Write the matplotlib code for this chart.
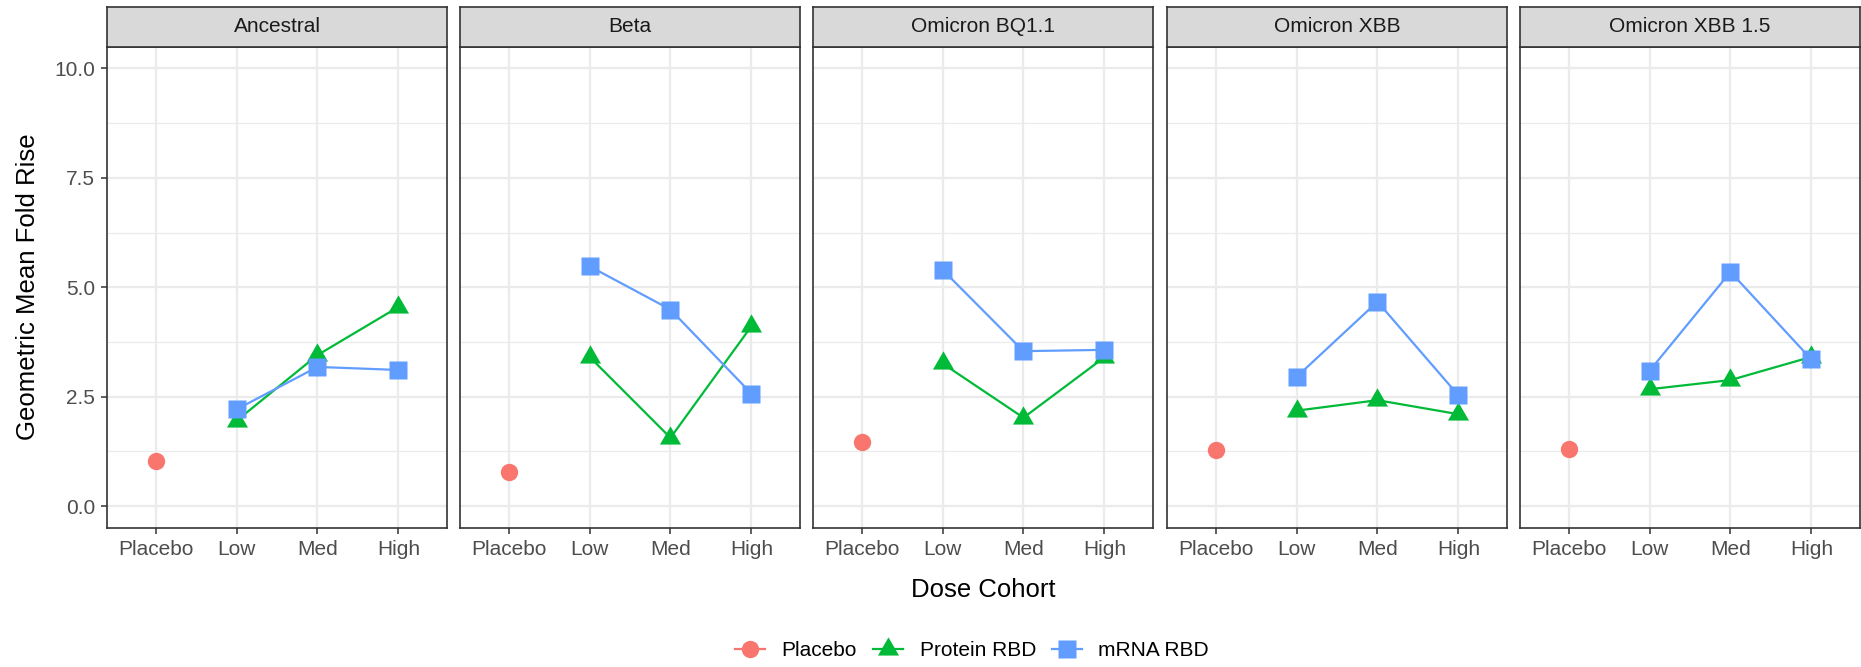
import numpy as np
import matplotlib
matplotlib.use("Agg")
import matplotlib.pyplot as plt
from matplotlib.lines import Line2D

plt.rcParams["font.family"] = ["Liberation Sans", "DejaVu Sans"]

# Data
variants = ["Ancestral", "Beta", "Omicron BQ1.1", "Omicron XBB", "Omicron XBB 1.5"]
cohorts = ["Placebo", "Low", "Med", "High"]
placebo = [1.03, 0.79, 1.47, 1.28, 1.30]
protein_rbd = [
    [1.95, 3.45, 4.55],
    [3.41, 1.56, 4.11],
    [3.26, 2.02, 3.40],
    [2.18, 2.42, 2.10],
    [2.67, 2.88, 3.41],
]
mrna_rbd = [
    [2.21, 3.18, 3.11],
    [5.48, 4.49, 2.57],
    [5.40, 3.54, 3.57],
    [2.95, 4.67, 2.53],
    [3.09, 5.35, 3.35],
]

c_placebo = "#F8766D"
c_protein = "#00BA38"
c_mrna = "#619CFF"

# equilateral triangle like ggplot pch 17
tri = [(-1, -0.577), (1, -0.577), (0, 1.155), (-1, -0.577)]

W, H = 1861, 667
fig = plt.figure(figsize=(W / 100, H / 100), dpi=100)

lefts = [107, 460, 813, 1167, 1520]
pw = 340
top, bottom = 46.5, 528
strip_top = 6.5

x_all = np.arange(1, 5)

for i, name in enumerate(variants):
    ax = fig.add_axes([lefts[i] / W, 1 - bottom / H, pw / W, (bottom - top) / H])
    ax.set_xlim(0.4, 4.6)
    ax.set_ylim(-0.5, 10.5)

    # grid
    for y in [0, 2.5, 5, 7.5, 10]:
        ax.axhline(y, color="#EBEBEB", lw=1.6, zorder=0)
    for y in [1.25, 3.75, 6.25, 8.75]:
        ax.axhline(y, color="#EBEBEB", lw=0.9, zorder=0)
    for x in x_all:
        ax.axvline(x, color="#EBEBEB", lw=1.6, zorder=0)

    ax.plot([1], [placebo[i]], marker="o", color=c_placebo, ms=12.5, mec="none", zorder=3)
    ax.plot(x_all[1:], protein_rbd[i], color=c_protein, lw=1.6, marker=tri,
            ms=17.5, mec="none", zorder=3)
    ax.plot(x_all[1:], mrna_rbd[i], color=c_mrna, lw=1.6, marker="s",
            ms=12.5, mec="none", zorder=4)

    ax.set_xticks(x_all)
    ax.set_xticklabels(cohorts)
    ax.set_yticks([0, 2.5, 5, 7.5, 10])
    ax.set_yticklabels(["0.0", "2.5", "5.0", "7.5", "10.0"])
    ax.tick_params(axis="both", labelsize=15, labelcolor="#4D4D4D",
                   color="#333333", length=4, width=1.1, pad=4.5)
    if i > 0:
        ax.tick_params(axis="y", left=False, labelleft=False)
    for s in ax.spines.values():
        s.set_color("#333333")
        s.set_linewidth(1.2)

    # strip
    sax = fig.add_axes([lefts[i] / W, 1 - top / H, pw / W, (top - strip_top) / H])
    sax.set_facecolor("#D9D9D9")
    sax.set_xticks([])
    sax.set_yticks([])
    for s in sax.spines.values():
        s.set_color("#333333")
        s.set_linewidth(1.2)
    sax.text(0.5, 0.5, name, ha="center", va="center", fontsize=15,
             color="#1A1A1A", transform=sax.transAxes)

fig.text(28 / W, 1 - 287 / H, "Geometric Mean Fold Rise", rotation=90,
         ha="center", va="center", fontsize=18.5)
fig.text(983 / W, 1 - 590 / H, "Dose Cohort", ha="center", va="center",
         fontsize=18.5)

handles = [
    Line2D([], [], color=c_placebo, lw=1.6, marker="o", ms=12.5, mec="none"),
    Line2D([], [], color=c_protein, lw=1.6, marker=tri, ms=17.5, mec="none"),
    Line2D([], [], color=c_mrna, lw=1.6, marker="s", ms=12.5, mec="none"),
]
fig.legend(handles, ["Placebo", "Protein RBD", "mRNA RBD"], loc="center",
           bbox_to_anchor=(972 / W, 1 - 651 / H), ncol=3, frameon=False,
           fontsize=15, handlelength=1.45, columnspacing=0.75, handletextpad=0.8)

fig.savefig("out.png", dpi=100)
